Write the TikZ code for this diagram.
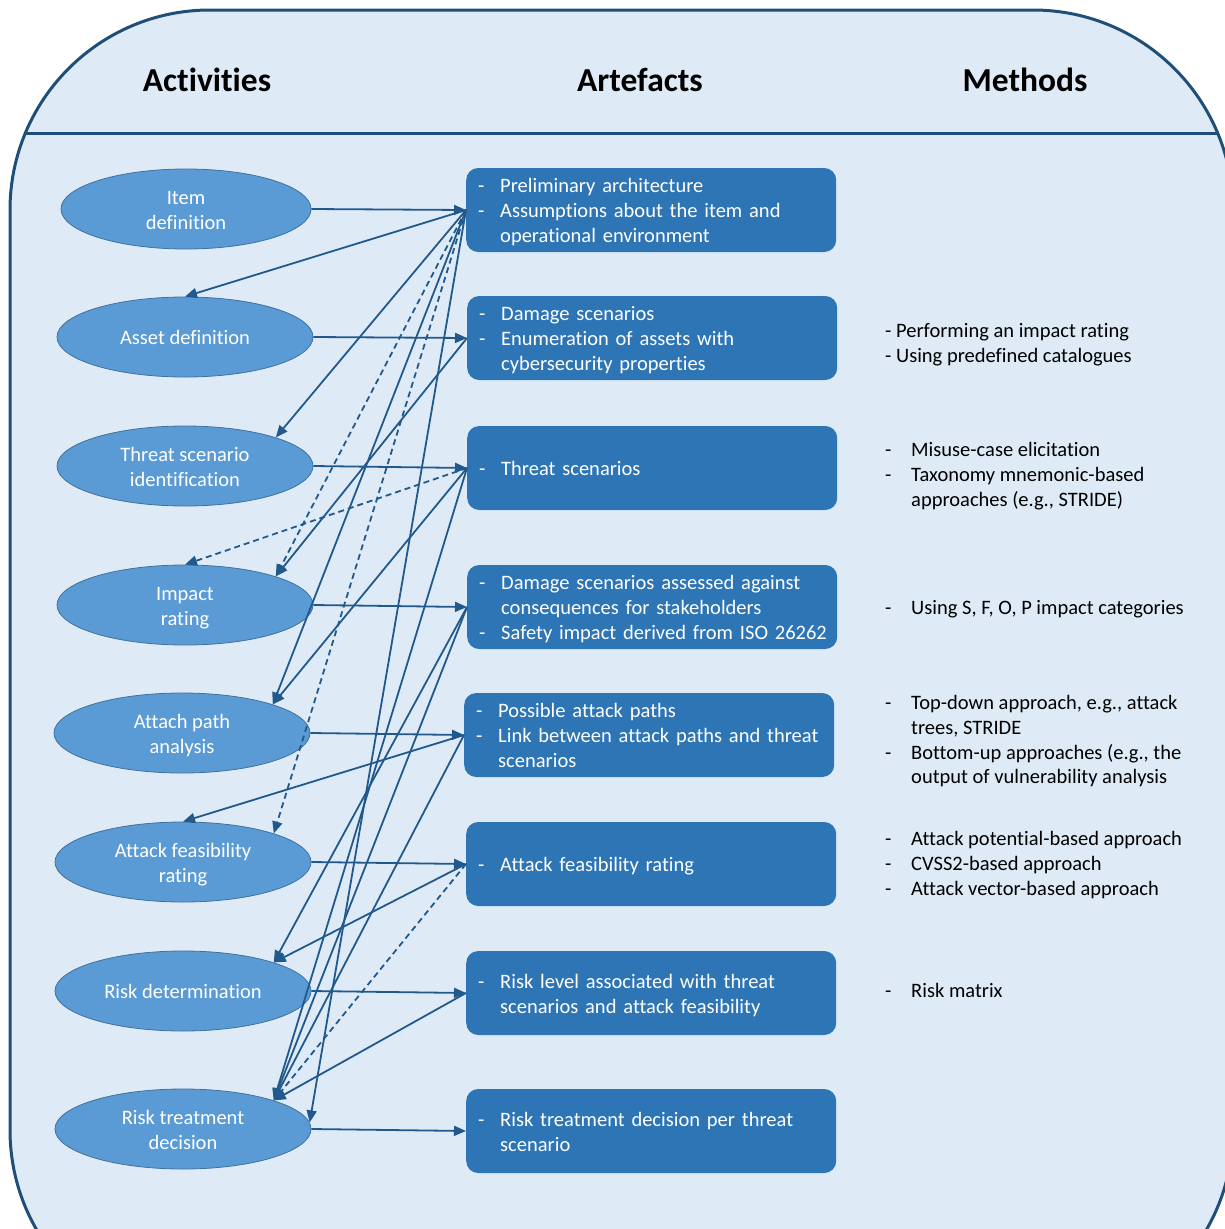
\documentclass[tikz,border=0pt]{standalone}
\usepackage{fontspec}
\setmainfont{Carlito}[Ligatures=NoCommon]
\usetikzlibrary{arrows.meta,shapes.geometric}
\definecolor{bgfill}{HTML}{DEEBF7}
\definecolor{frame}{HTML}{1F4E79}
\definecolor{ellfill}{HTML}{5B9BD5}
\definecolor{elldraw}{HTML}{41719C}
\definecolor{boxfill}{HTML}{2E75B6}
\definecolor{arrowc}{HTML}{21598C}
\newcommand{\dd}{\makebox[22pt][l]{-}}
\newcommand{\ii}{\hspace*{22pt}}
\newcommand{\md}{\makebox[26pt][l]{-}}
\newcommand{\mi}{\hspace*{26pt}}
\newcommand{\lines}[1]{\raisebox{-2.7pt}[\height][\depth]{\begin{tabular}{@{}l@{}}#1\end{tabular}}}
\begin{document}
\begin{tikzpicture}[x=1pt,y=-1pt,
  txt/.style={font=\fontsize{20.5}{24.8}\selectfont},
  act/.style={txt, ellipse, fill=ellfill, draw=elldraw, line width=0.8pt,
    minimum width=256pt, minimum height=80pt, inner sep=0pt, text=white, align=center},
  art/.style={txt, rectangle, rounded corners=12pt, fill=boxfill, minimum width=370pt,
    minimum height=84pt, inner xsep=12pt, inner ysep=0pt, text width=346pt,
    text=white, align=left, anchor=west},
  meth/.style={txt, anchor=west, inner sep=0pt, text=black},
  hdr/.style={font=\fontsize{33.5}{40}\selectfont\bfseries, text=black, inner sep=0pt},
  fl/.style={draw=arrowc, line width=1.8pt, -{Triangle[length=12pt,width=10pt]}},
  dsh/.style={fl, dash pattern=on 6pt off 4pt}
]
\useasboundingbox (0,0) rectangle (1225,1229);
% outer frame
\path[fill=bgfill, draw=frame, line width=3pt, rounded corners=200pt]
  (10,1330) -- (10,10) -- (1233,10) -- (1233,1330) -- cycle;
\begin{scope}
  \clip[rounded corners=200pt] (10,1330) -- (10,10) -- (1233,10) -- (1233,1330) -- cycle;
  \draw[frame, line width=3pt] (0,133) -- (1240,133);
\end{scope}
% headers
\node[hdr] (h1) at (207,80) {Activities};
\node[hdr] (h2) at (640,80) {Artefacts};
\node[hdr] (h3) at (1025,80) {Methods};
% activities
\node[act, minimum width=250pt] (id) at (186,209) {\lines{\hfill Item\hfill\null\\definition}};
\node[act] (ad) at (185,337) {Asset definition};
\node[act] (ts) at (185,466) {\lines{Threat scenario\\\hfill identification\hfill\null}};
\node[act] (ir) at (185,605) {\lines{\hfill Impact\hfill\null\\\hfill rating\hfill\null}};
\node[act] (ap) at (182,733) {\lines{Attach path\\\hfill analysis\hfill\null}};
\node[act] (af) at (183,862) {\lines{Attack feasibility\\\hfill rating\hfill\null}};
\node[act] (rd) at (183,991) {Risk determination};
\node[act] (rt) at (183,1129) {\lines{Risk treatment\\\hfill decision\hfill\null}};
% artefacts
\node[art] (b1) at (466,210) {\lines{\dd Preliminary architecture\\\dd Assumptions about the item and\\\ii operational environment}};
\node[art] (b2) at (467,338) {\lines{\dd Damage scenarios\\\dd Enumeration of assets with\\\ii cybersecurity properties}};
\node[art] (b3) at (467,468) {\lines{\dd Threat scenarios}};
\node[art] (b4) at (467,607) {\lines{\dd Damage scenarios assessed against\\\ii consequences for stakeholders\\\dd Safety impact derived from ISO 26262}};
\node[art] (b5) at (464,735) {\lines{\dd Possible attack paths\\\dd Link between attack paths and threat\\\ii scenarios}};
\node[art] (b6) at (466,864) {\lines{\dd Attack feasibility rating}};
\node[art] (b7) at (466,993) {\lines{\dd Risk level associated with threat\\\ii scenarios and attack feasibility}};
\node[art] (b8) at (466,1131) {\lines{\dd Risk treatment decision per threat\\\ii scenario}};
% methods
\node[meth] (m2) at (885,342) {\lines{- Performing an impact rating\\- Using predefined catalogues}};
\node[meth] (m3) at (885,474) {\lines{\md Misuse-case elicitation\\\md Taxonomy mnemonic-based\\\mi approaches (e.g., STRIDE)}};
\node[meth] (m4) at (885,607) {\lines{\md Using S, F, O, P impact categories}};
\node[meth] (m5) at (885,739) {\lines{\md Top-down approach, e.g., attack\\\mi trees, STRIDE\\\md Bottom-up approaches (e.g., the\\\mi output of vulnerability analysis}};
\node[meth] (m6) at (885,863) {\lines{\md Attack potential-based approach\\\md CVSS2-based approach\\\md Attack vector-based approach}};
\node[meth] (m7) at (885,990) {\lines{\md Risk matrix}};
% forward connectors
\draw[fl] (id.east) -- (b1.west);
\draw[fl] (ad.east) -- (b2.west);
\draw[fl] (ts.east) -- (b3.west);
\draw[fl] (ir.east) -- (b4.west);
\draw[fl] (ap.east) -- (b5.west);
\draw[fl] (af.east) -- (b6.west);
\draw[fl] (rd.east) -- (b7.west);
\draw[fl] (rt.east) -- (b8.west);
% backward connectors
\draw[fl] (b1.west) -- (ad.north);
\draw[fl] (b1.west) -- (ts.north east);
\draw[dsh] (b1.west) -- (ir.north east);
\draw[fl] (b1.west) -- (ap.north east);
\draw[dsh] (b1.west) -- (af.north east);
\draw[fl] (b1.west) -- (rt.3);
\draw[fl] (b2.west) -- (ir.north east);
\draw[dsh] (b3.west) -- (ir.north);
\draw[fl] (b3.west) -- (ap.north east);
\draw[fl] (b3.west) -- (rt.north east);
\draw[fl] (b4.west) -- (rd.north east);
\draw[fl] (b4.west) -- (rt.north east);
\draw[fl] (b5.west) -- (af.north);
\draw[fl] (b5.west) -- (rt.north east);
\draw[fl] (b6.west) -- (rd.north east);
\draw[dsh] (b6.west) -- (rt.north east);
\draw[fl] (b7.west) -- (rt.north east);
\end{tikzpicture}
\end{document}
